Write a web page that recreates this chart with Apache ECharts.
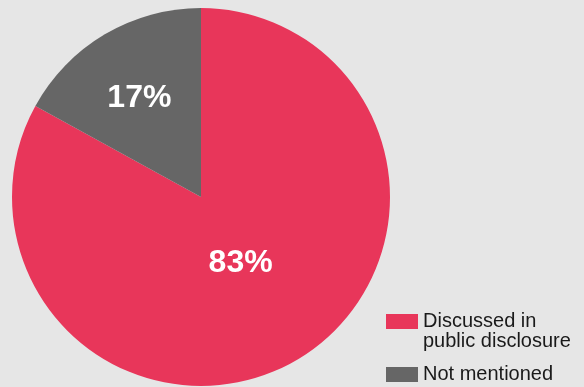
<!DOCTYPE html>
<html>
<head>
<meta charset="utf-8">
<script src="https://cdn.jsdelivr.net/npm/echarts@6/dist/echarts.min.js"></script>
<style>
  html, body { margin: 0; padding: 0; background: #e6e6e6; }
  #chart { width: 584px; height: 387px; }
</style>
</head>
<body>
<div id="chart"></div>
<script>
// Share of companies by disclosure status
const categories = ['Discussed in public disclosure', 'Not mentioned'];
const shares = [83, 17];
const colors = ['#e8365a', '#666666'];

const FONT = '"Liberation Sans", Arial, Helvetica, sans-serif';

const chart = echarts.init(document.getElementById('chart'), null, { renderer: 'canvas' });

const labelOffsets = [[-10, -18], [-12, -15]];

chart.setOption({
  backgroundColor: '#e6e6e6',
  animation: false,
  legend: [
    {
      // two-line entry: an empty first row keeps the swatch level with the first text line
      orient: 'vertical',
      left: 386,
      top: 291.5,
      padding: 0,
      icon: 'rect',
      itemWidth: 32,
      itemHeight: 15,
      selectedMode: false,
      data: [categories[0]],
      formatter: () => '{pad|}\n{t|Discussed in}\n{t|public disclosure}',
      textStyle: {
        fontFamily: FONT, fontSize: 20, color: '#1a1a1a', lineHeight: 20,
        rich: {
          pad: { height: 20, lineHeight: 20 },
          t: { fontFamily: FONT, fontSize: 20, color: '#1a1a1a', lineHeight: 20 }
        }
      }
    },
    {
      orient: 'vertical',
      left: 386,
      top: 364.5,
      padding: 0,
      icon: 'rect',
      itemWidth: 32,
      itemHeight: 15,
      selectedMode: false,
      data: [categories[1]],
      textStyle: { fontFamily: FONT, fontSize: 20, color: '#1a1a1a' }
    }
  ],
  series: [{
    type: 'pie',
    center: [201, 197],
    radius: 189,
    startAngle: 90,
    clockwise: true,
    silent: true,
    label: {
      show: true,
      position: 'inside',
      formatter: '{c}%',
      color: '#ffffff',
      fontFamily: FONT,
      fontWeight: 'bold',
      fontSize: 32
    },
    labelLine: { show: false },
    data: categories.map((name, i) => ({
      name: name,
      value: shares[i],
      itemStyle: { color: colors[i] },
      label: { offset: labelOffsets[i] }
    }))
  }]
});
</script>
</body>
</html>
